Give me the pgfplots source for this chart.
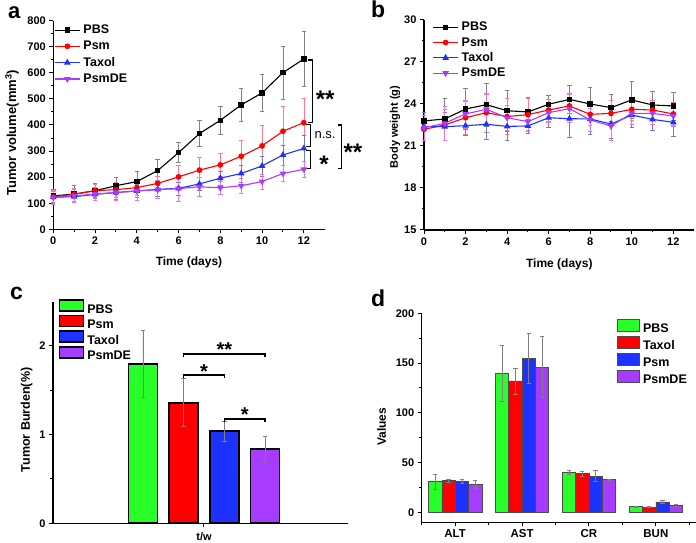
\documentclass[border=0pt]{standalone}
\usepackage{fontspec}
\setmainfont{Liberation Sans}
\usepackage{pgfplots}
\pgfplotsset{compat=1.18}
\definecolor{epbs}{RGB}{130,130,130}
\definecolor{cpsm}{RGB}{255,0,0}
\definecolor{epsm}{RGB}{255,120,150}
\definecolor{ctax}{RGB}{30,50,255}
\definecolor{etax}{RGB}{120,120,190}
\definecolor{cde}{RGB}{170,60,255}
\definecolor{ede}{RGB}{225,120,230}
\definecolor{bgreen}{RGB}{40,255,40}
\definecolor{bred}{RGB}{255,0,0}
\definecolor{bblue}{RGB}{30,50,255}
\definecolor{bpurple}{RGB}{165,60,255}
\tikzset{stars/.style={font=\bfseries\fontsize{#1}{#1}\selectfont, inner sep=0pt, yshift={-0.2*#1pt}}}
\newcommand{\fs}[1]{\fontsize{#1}{#1}\selectfont}
\pgfplotsset{
 orig/.style={
  scale only axis, clip=false,
  axis lines*=left,
  axis line style={line width=1.3pt},
  tick align=outside,
  major tick length=4pt, minor tick length=2.5pt,
  tick style={black, line width=1pt},
  ticklabel style={font=\bfseries\fs{11}},
  label style={font=\bfseries\fs{12}},
  /pgf/number format/assume math mode=true,
  legend cell align=left,
  legend style={draw=none, fill=none, inner sep=0pt,
    font=\bfseries\fs{12.5},
    nodes={inner sep=1pt}, column sep=2pt},
 },
 errs/.style={/pgfplots/error bars/y dir=both, /pgfplots/error bars/y explicit,
   /pgfplots/error bars/error bar style={color=#1, line width=0.6pt},
   /pgfplots/error bars/error mark options={rotate=90, color=#1, mark size=2.2pt, line width=0.6pt}},
}
\begin{document}
\begin{tikzpicture}
\useasboundingbox (0pt,0pt) rectangle (696pt,543pt);
% ---------------- panel a
\begin{axis}[orig, at={(53.3pt,313.7pt)}, anchor=south west, width=271.4pt, height=208.6pt,
 xmin=0, xmax=13, ymin=0, ymax=800, xtick={0,2,...,12}, minor x tick num=1,
 ytick={0,100,...,800}, minor y tick num=1,
 xlabel={Time (days)}, ylabel={Tumor volume(mm\textsuperscript{3})},
 xlabel style={at={(axis description cs:0.5,-0.157)}, anchor=center},
 ylabel style={font=\bfseries\fs{13}, at={(axis description cs:-0.152,0.462)}, anchor=center},
 legend style={at={(axis description cs:0.003,0.985)}, anchor=north west, row sep=4pt},
 legend image code/.code={\draw[mark repeat=2,mark phase=2,#1] plot coordinates {(0pt,0pt) (12.5pt,0pt) (25pt,0pt)};},
]
\addplot[black, line width=1.1pt, mark=square*, mark size=2.2pt, errs=epbs] coordinates {
(0,128) +- (0,25) (1,135) +- (0,32) (2,148) +- (0,30) (3,167) +- (0,34) (4,183) +- (0,38)
(5,225) +- (0,42) (6,294) +- (0,38) (7,367) +- (0,50) (8,418) +- (0,55) (9,477) +- (0,64)
(10,523) +- (0,72) (11,601) +- (0,101) (12,653) +- (0,106)};
\addlegendentry{PBS}
\addplot[cpsm, line width=1.1pt, mark=*, mark size=2.3pt, errs=epsm] coordinates {
(0,125) +- (0,25) (1,134) +- (0,25) (2,148) +- (0,25) (3,152) +- (0,28) (4,160) +- (0,30)
(5,176) +- (0,28) (6,201) +- (0,45) (7,227) +- (0,50) (8,247) +- (0,45) (9,280) +- (0,62)
(10,320) +- (0,78) (11,376) +- (0,95) (12,409) +- (0,95)};
\addlegendentry{Psm}
\addplot[ctax, line width=1.1pt, mark=triangle*, mark size=2.8pt, errs=etax] coordinates {
(0,123) +- (0,22) (1,125) +- (0,22) (2,134) +- (0,22) (3,141) +- (0,25) (4,147) +- (0,25)
(5,153) +- (0,25) (6,157) +- (0,25) (7,174) +- (0,25) (8,196) +- (0,28) (9,214) +- (0,32)
(10,243) +- (0,38) (11,285) +- (0,38) (12,310) +- (0,50)};
\addlegendentry{Taxol}
\addplot[cde, line width=1.1pt, mark=triangle*, mark size=2.8pt, mark options={rotate=180}, errs=ede] coordinates {
(0,122) +- (0,25) (1,128) +- (0,25) (2,135) +- (0,25) (3,141) +- (0,30) (4,147) +- (0,35)
(5,152) +- (0,35) (6,156) +- (0,50) (7,163) +- (0,35) (8,159) +- (0,25) (9,167) +- (0,30)
(10,183) +- (0,28) (11,214) +- (0,30) (12,230) +- (0,30)};
\addlegendentry{PsmDE}
\draw[line width=1.2pt] (axis cs:12.21,649) -- (axis cs:12.40,649) -- (axis cs:12.40,409) -- (axis cs:12.21,409);
\draw[line width=1.2pt] (axis cs:12.12,403) -- (axis cs:12.32,403) -- (axis cs:12.32,317) -- (axis cs:12.12,317);
\draw[line width=1.2pt] (axis cs:12.12,301) -- (axis cs:12.32,301) -- (axis cs:12.32,234) -- (axis cs:12.12,234);
\draw[line width=1.2pt] (axis cs:13.65,400) -- (axis cs:13.81,400) -- (axis cs:13.81,234) -- (axis cs:13.65,234);
\node[stars=24] at (axis cs:13.02,517) {**};
\node[stars=24] at (axis cs:12.97,266) {*};
\node[stars=24] at (axis cs:14.35,315) {**};
\node[font=\fs{13}, inner sep=0pt] at (axis cs:13.02,362) {n.s.};
\end{axis}
% ---------------- panel b
\begin{axis}[orig, at={(424pt,313pt)}, anchor=south west, width=270.1pt, height=210pt,
 xmin=0, xmax=13, ymin=15, ymax=30, xtick={0,2,...,12}, minor x tick num=1,
 ytick={15,18,...,30}, minor y tick num=1,
 xlabel={Time (days)}, ylabel={Body weight (g)},
 xlabel style={at={(axis description cs:0.501,-0.162)}, anchor=center},
 ylabel style={font=\bfseries\fs{11}, at={(axis description cs:-0.107,0.49)}, anchor=center},
 legend style={at={(axis description cs:0.031,0.995)}, anchor=north west, row sep=3pt},
 legend image code/.code={\draw[mark repeat=2,mark phase=2,#1] plot coordinates {(0pt,0pt) (12.5pt,0pt) (25pt,0pt)};},
]
\addplot[black, line width=1.1pt, mark=square*, mark size=2.2pt, errs=epbs] coordinates {
(0,22.79) +- (0,0.6) (1,22.93) +- (0,1.5) (2,23.64) +- (0,1.45) (3,23.95) +- (0,1.55) (4,23.52) +- (0,1.45)
(5,23.43) +- (0,1.05) (6,23.98) +- (0,0.65) (7,24.33) +- (0,1.0) (8,24.0) +- (0,1.2) (9,23.74) +- (0,0.95)
(10,24.29) +- (0,1.3) (11,23.93) +- (0,1.0) (12,23.86) +- (0,1.0)};
\addlegendentry{PBS}
\addplot[cpsm, line width=1.1pt, mark=*, mark size=2.3pt, errs=epsm] coordinates {
(0,22.19) +- (0,0.8) (1,22.5) +- (0,1.1) (2,23.02) +- (0,1.2) (3,23.38) +- (0,1.4) (4,23.1) +- (0,1.3)
(5,23.24) +- (0,1.2) (6,23.57) +- (0,0.8) (7,23.86) +- (0,0.9) (8,23.26) +- (0,0.8) (9,23.33) +- (0,0.9)
(10,23.62) +- (0,0.8) (11,23.57) +- (0,0.7) (12,23.29) +- (0,0.8)};
\addlegendentry{Psm}
\addplot[ctax, line width=1.1pt, mark=triangle*, mark size=2.8pt, errs=etax] coordinates {
(0,22.38) +- (0,1.0) (1,22.38) +- (0,1.0) (2,22.45) +- (0,0.7) (3,22.55) +- (0,1.1) (4,22.4) +- (0,1.0)
(5,22.43) +- (0,0.5) (6,23.02) +- (0,0.7) (7,22.95) +- (0,1.3) (8,22.93) +- (0,1.1) (9,22.57) +- (0,1.0)
(10,23.21) +- (0,0.9) (11,22.9) +- (0,0.8) (12,22.69) +- (0,1.0)};
\addlegendentry{Taxol}
\addplot[cde, line width=1.1pt, mark=triangle*, mark size=2.8pt, mark options={rotate=180}, errs=ede] coordinates {
(0,22.3) +- (0,0.9) (1,22.62) +- (0,1.2) (2,23.29) +- (0,1.0) (3,23.62) +- (0,1.1) (4,23.02) +- (0,0.9)
(5,22.74) +- (0,0.6) (6,23.38) +- (0,0.7) (7,23.67) +- (0,1.0) (8,22.86) +- (0,0.8) (9,22.43) +- (0,1.0)
(10,23.33) +- (0,0.8) (11,23.33) +- (0,0.8) (12,23.14) +- (0,0.7)};
\addlegendentry{PsmDE}
\end{axis}
% ---------------- panel c
\begin{axis}[orig, at={(53pt,19.7pt)}, anchor=south west, width=295pt, height=221.7pt,
 xmin=-1.211, xmax=6.04, ymin=0, ymax=2.5, xtick={2.5}, xticklabels={t/w},
 xticklabel style={yshift=-2pt},
 ytick={0,1,2}, minor ytick={0.5,1.5},
 ylabel={Tumor Burden(\%)},
 ylabel style={font=\bfseries\fs{12.5}, at={(axis description cs:-0.089,0.466)}, anchor=center},
 legend style={at={(axis description cs:0.018,1.012)}, anchor=north west, row sep=-1pt},
 legend image code/.code={\draw[#1,/tikz/.cd] (0pt,-1.5pt) rectangle (24pt,9.5pt);},
]
\addplot[ybar, bar width=29pt, bar shift=0pt, fill=bgreen, draw=black, line width=1.8pt, errs=gray] coordinates {(1,1.80) +- (0,0.38)};
\addlegendentry{PBS}
\addplot[ybar, bar width=29pt, bar shift=0pt, fill=bred, draw=black, line width=1.8pt, errs=gray] coordinates {(2,1.36) +- (0,0.27)};
\addlegendentry{Psm}
\addplot[ybar, bar width=29pt, bar shift=0pt, fill=bblue, draw=black, line width=1.8pt, errs=gray] coordinates {(3,1.04) +- (0,0.115)};
\addlegendentry{Taxol}
\addplot[ybar, bar width=29pt, bar shift=0pt, fill=bpurple, draw=black, line width=1.8pt, errs=gray] coordinates {(4,0.835) +- (0,0.15)};
\addlegendentry{PsmDE}
\draw[line width=1.2pt] (axis cs:2,1.87) -- (axis cs:2,1.91) -- (axis cs:4,1.91) -- (axis cs:4,1.87);
\draw[line width=1.2pt] (axis cs:2,1.633) -- (axis cs:2,1.672) -- (axis cs:3,1.672) -- (axis cs:3,1.633);
\draw[line width=1.2pt] (axis cs:3,1.14) -- (axis cs:3,1.176) -- (axis cs:4,1.176) -- (axis cs:4,1.14);
\node[stars=20] at (axis cs:3,2.0) {**};
\node[stars=20] at (axis cs:2.5,1.755) {*};
\node[stars=20] at (axis cs:3.5,1.266) {*};
\end{axis}
% ---------------- panel d
\begin{axis}[orig, at={(421.7pt,20.7pt)}, anchor=south west, width=274.3pt, height=209pt,
 ybar=0pt, bar width=13.33pt,
 xmin=-0.5, xmax=3.6, ymin=-10, ymax=200, xtick={0,1,2,3}, xticklabels={ALT,AST,CR,BUN},
 xticklabel style={font=\bfseries\fs{11.5}},
 minor xtick={-0.5,0.5,1.5,2.5,3.5},
 ytick={0,50,...,200}, minor y tick num=1,
 ylabel={Values},
 ylabel style={at={(axis description cs:-0.146,0.457)}, anchor=center},
 legend style={at={(axis description cs:0.713,0.975)}, anchor=north west, row sep=0.5pt},
 legend image code/.code={\draw[#1,/tikz/.cd] (0pt,-2pt) rectangle (22pt,10pt);},
]
\addplot[fill=bgreen, draw=black!70, line width=0.6pt, errs=gray] coordinates {(0,30.8) +- (0,7.5) (1,139.7) +- (0,28.5) (2,40.2) +- (0,2.2) (3,5.6) +- (0,0.4)};
\addlegendentry{PBS}
\addplot[fill=bred, draw=black!70, line width=0.6pt, errs=gray] coordinates {(0,31.8) +- (0,1.5) (1,132) +- (0,13) (2,38.8) +- (0,2.5) (3,5.3) +- (0,0.3)};
\addlegendentry{Taxol}
\addplot[fill=bblue, draw=black!70, line width=0.6pt, errs=gray] coordinates {(0,30.8) +- (0,2) (1,154.8) +- (0,25) (2,36.5) +- (0,5.8) (3,10.4) +- (0,1.8)};
\addlegendentry{Psm}
\addplot[fill=bpurple, draw=black!70, line width=0.6pt, errs=gray] coordinates {(0,28.4) +- (0,4) (1,146) +- (0,30.5) (2,33.2) +- (0,0.5) (3,7) +- (0,1.3)};
\addlegendentry{PsmDE}
\end{axis}
% panel letters
\node[anchor=base west, font=\bfseries\fs{22}, inner sep=0pt] at (8pt,524.5pt) {a};
\node[anchor=base west, font=\bfseries\fs{23}, inner sep=0pt] at (371pt,525pt) {b};
\node[anchor=base west, font=\bfseries\fs{23}, inner sep=0pt] at (10pt,243pt) {c};
\node[anchor=base west, font=\bfseries\fs{23}, inner sep=0pt] at (371pt,236.3pt) {d};
\end{tikzpicture}
\end{document}
